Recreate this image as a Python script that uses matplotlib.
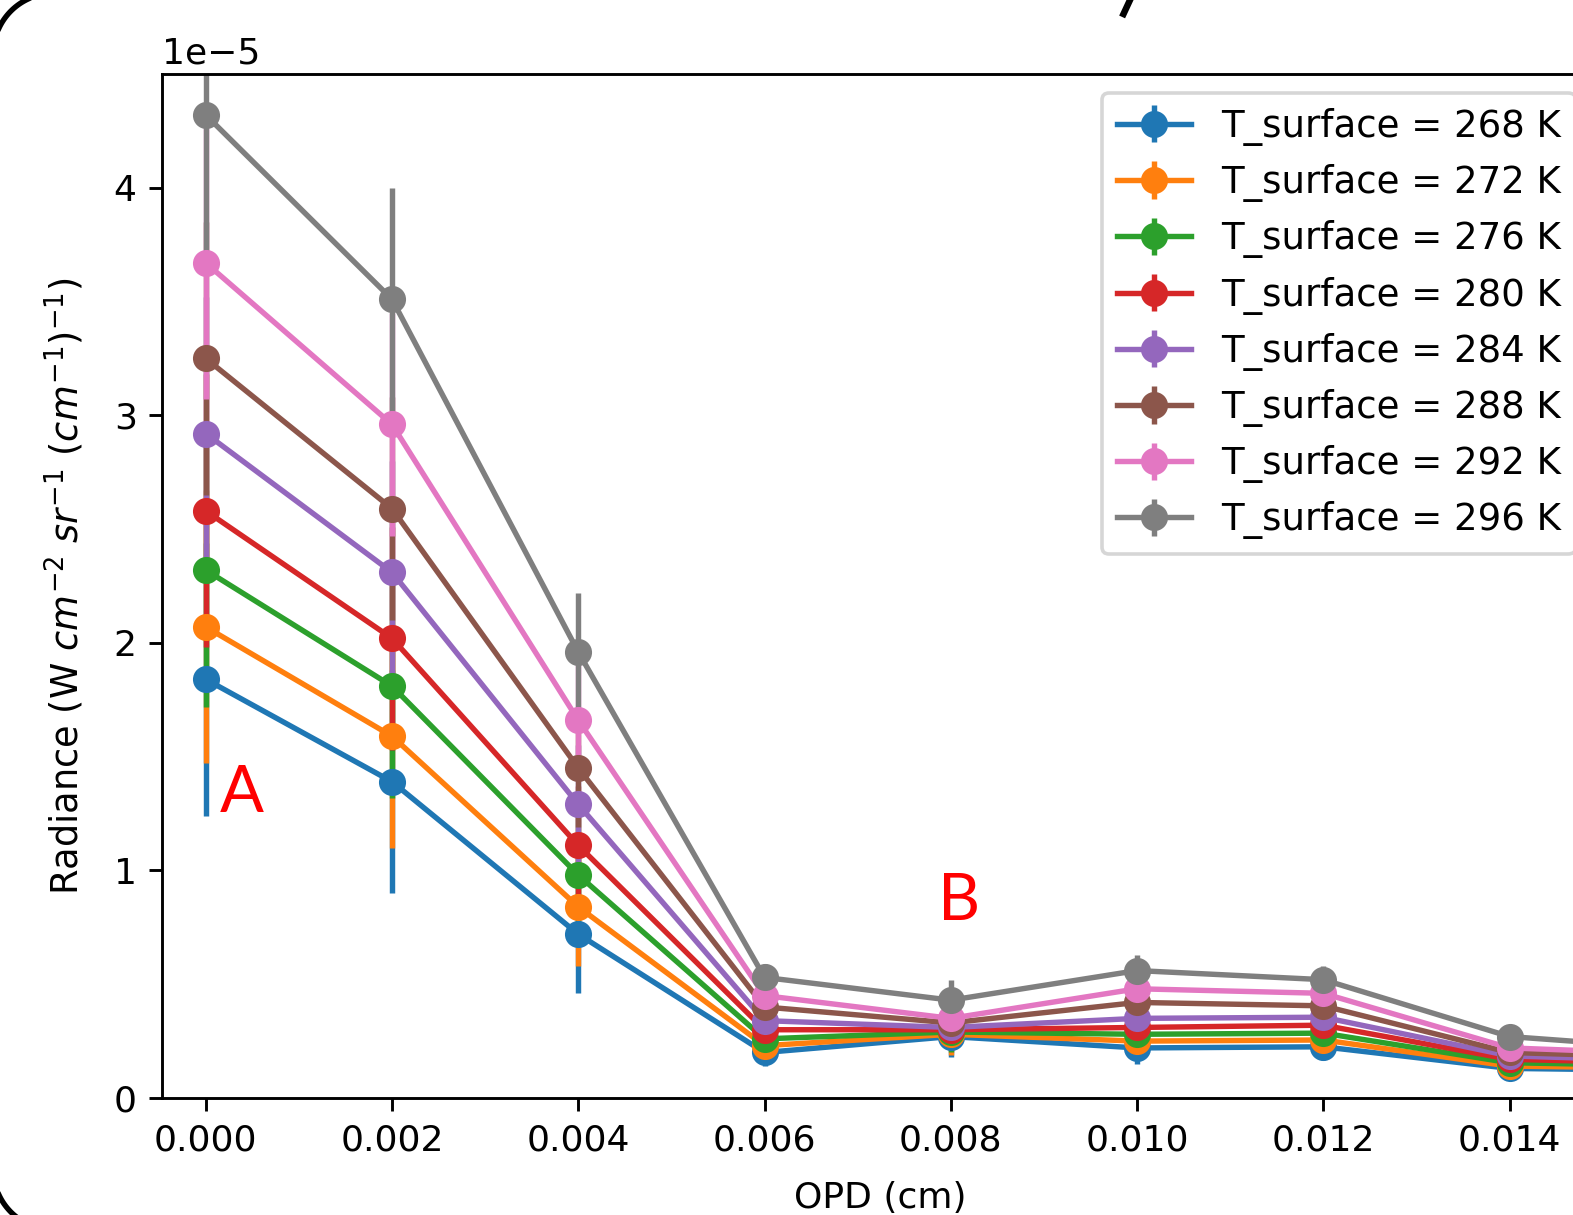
import numpy as np
import matplotlib
matplotlib.use("Agg")
import matplotlib.pyplot as plt
from matplotlib.lines import Line2D

# data (radiance in units of 1e-5)
opd = [0.000, 0.002, 0.004, 0.006, 0.008, 0.010, 0.012, 0.014, 0.016]
t_surface = [268, 272, 276, 280, 284, 288, 292, 296]
rad_268 = [1.84, 1.39, 0.72, 0.20, 0.27, 0.22, 0.225, 0.13, 0.12]
rad_272 = [2.07, 1.59, 0.84, 0.23, 0.28, 0.25, 0.255, 0.14, 0.13]
rad_276 = [2.32, 1.81, 0.98, 0.26, 0.29, 0.28, 0.285, 0.155, 0.14]
rad_280 = [2.58, 2.02, 1.11, 0.30, 0.30, 0.31, 0.32, 0.17, 0.15]
rad_284 = [2.92, 2.31, 1.29, 0.34, 0.31, 0.35, 0.355, 0.185, 0.16]
rad_288 = [3.25, 2.59, 1.45, 0.40, 0.33, 0.42, 0.405, 0.20, 0.175]
rad_292 = [3.67, 2.96, 1.66, 0.45, 0.35, 0.48, 0.46, 0.22, 0.19]
rad_296 = [4.32, 3.51, 1.96, 0.53, 0.43, 0.56, 0.52, 0.27, 0.21]
rad_err = [0.60, 0.49, 0.26, 0.06, 0.09, 0.07, 0.06, 0.03, 0.03]

series = [rad_268, rad_272, rad_276, rad_280, rad_284, rad_288, rad_292, rad_296]

W, H, DPI = 1573, 1215, 260
fig = plt.figure(figsize=(W / DPI, H / DPI), dpi=DPI)

# axes box in pixels (right side runs past the picture, as in the crop)
ax_l, ax_r, ax_t, ax_b = 162, 1598, 74, 1098
ax = fig.add_axes([ax_l / W, 1 - ax_b / H, (ax_r - ax_l) / W, (ax_b - ax_t) / H])

for t, r in zip(t_surface, series):
    ax.errorbar(opd, np.array(r) * 1e-5, yerr=np.array(rad_err) * 1e-5,
                marker="o", markersize=6.5, label="T_surface = %d K" % t)

ax.set_xlim(-0.00047, 0.01495)
ax.set_ylim(0, 4.5e-5)
ax.set_xticks([0.000, 0.002, 0.004, 0.006, 0.008, 0.010, 0.012, 0.014])
ax.set_xlabel("OPD (cm)", labelpad=6.5)
ax.set_ylabel(r"Radiance (W $cm^{-2}$ $sr^{-1}$ $(cm^{-1})^{-1}$)",
              fontsize=10.2, labelpad=7.5)

ax.legend(loc="upper left", bbox_to_anchor=(1102 / W, 1 - 93 / H),
          bbox_transform=fig.transFigure, borderaxespad=0, fontsize=10.3,
          labelspacing=0.49)

# red labels added on top of the plot
fig.text(220 / W, 1 - 812 / H, "A", color="red", fontsize=18, family="Lato")
fig.text(938 / W, 1 - 920 / H, "B", color="red", fontsize=18, family="Lato")

# rounded slide frame corners (pixel coords, y down)
def arc(cx, cy, r, a0, a1):
    a = np.radians(np.linspace(a0, a1, 60))
    xs = cx + r * np.cos(a)
    ys = cy + r * np.sin(a)
    return xs / W, 1 - ys / H

for cx, cy, a0, a1 in [(53.4, 53.4, 180, 270), (53.4, 1169.7, 90, 180)]:
    xs, ys = arc(cx, cy, 60, a0, a1)
    fig.add_artist(Line2D(xs, ys, color="black", linewidth=1.5,
                          transform=fig.transFigure))

# bit of the slide title poking in at the top
fig.add_artist(Line2D([1123.5 / W, 1130 / W], [1 - 14 / H, 1.0], color="black",
                      linewidth=1.8, transform=fig.transFigure))

fig.savefig("out.png", dpi=DPI)
